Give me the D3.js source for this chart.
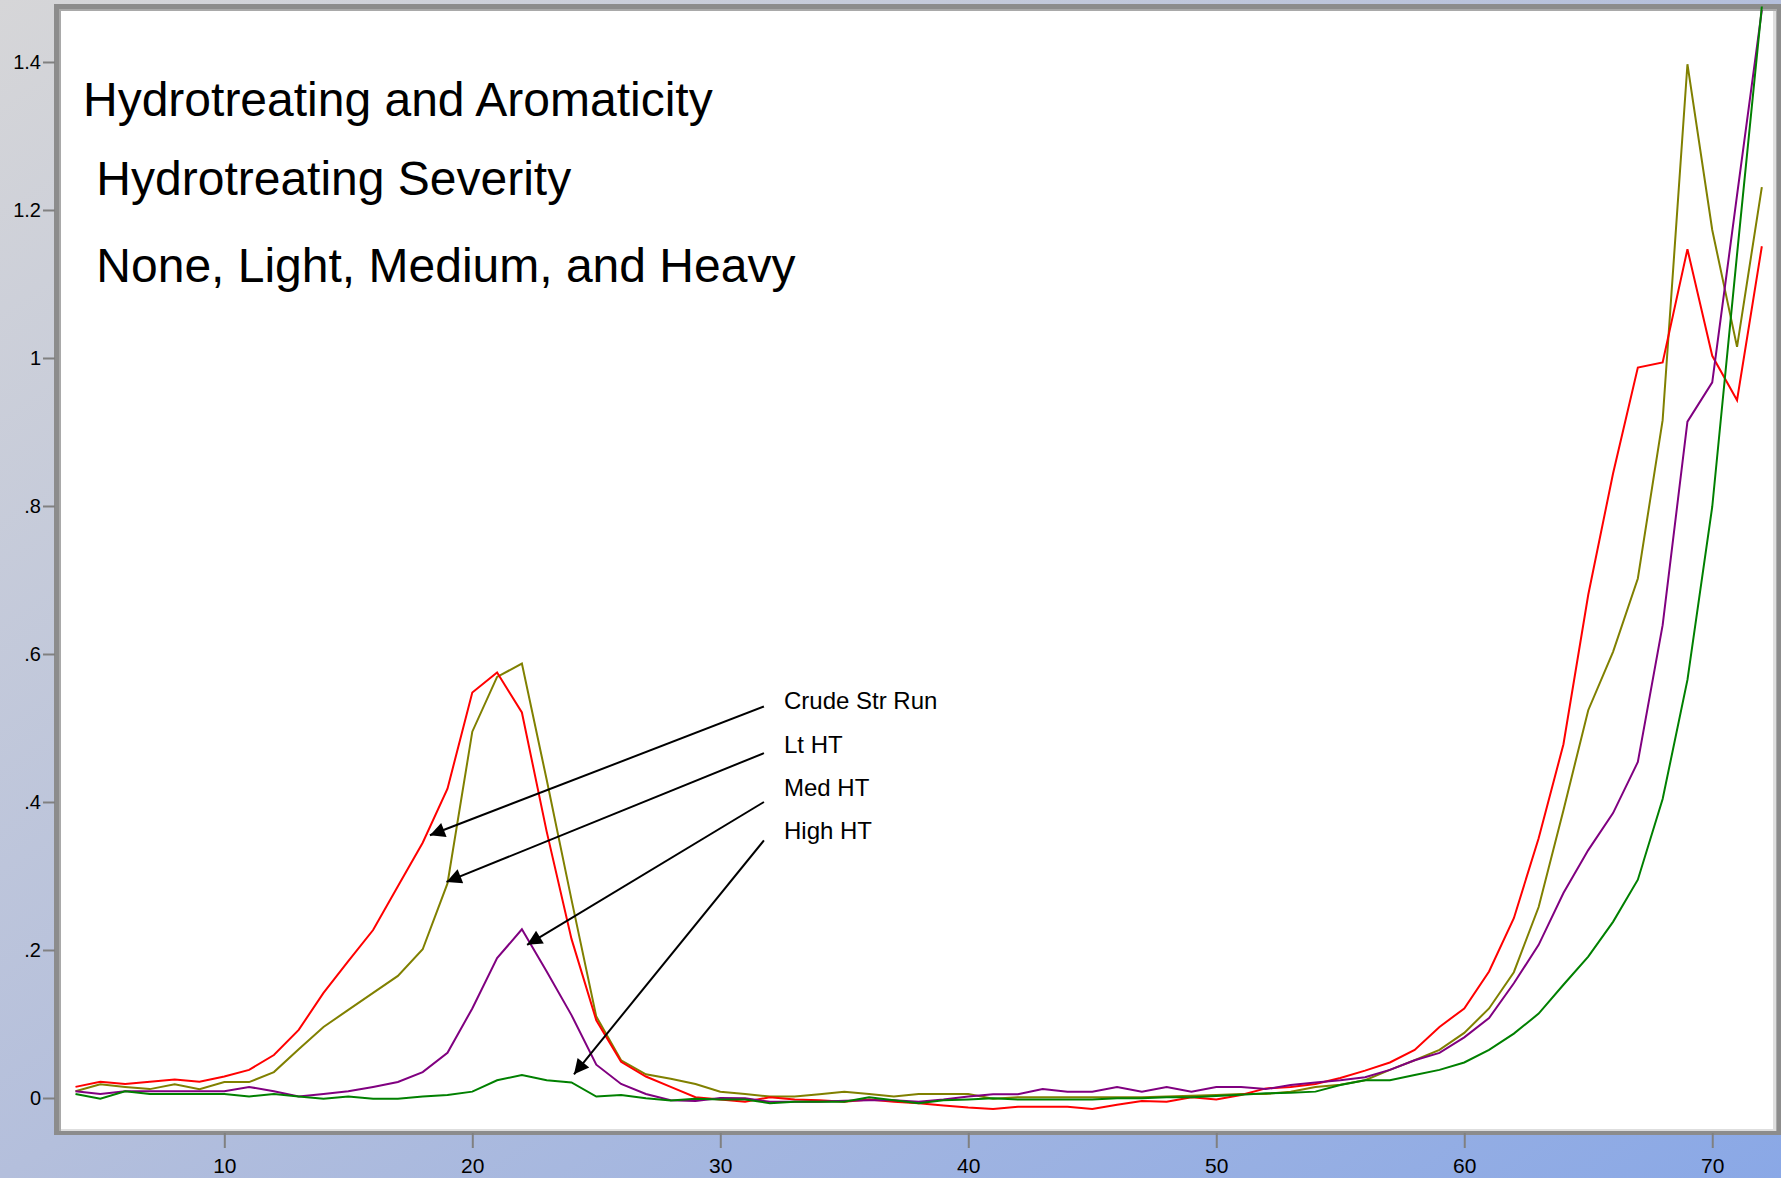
<!DOCTYPE html>
<html>
<head>
<meta charset="utf-8">
<script src="https://cdn.jsdelivr.net/npm/d3@7"></script>
<style>
  body { margin: 0; overflow: hidden; }
  text { font-family: "Liberation Sans", Arial, sans-serif; }
</style>
</head>
<body>
<div id="chart"></div>
<script>
// carbon number (x axis)
const carbon = [4, 5, 6, 7, 8, 9, 10, 11, 12, 13, 14, 15, 16, 17, 18, 19, 20, 21, 22, 23,
  24, 25, 26, 27, 28, 29, 30, 31, 32, 33, 34, 35, 36, 37, 38, 39, 40, 41, 42, 43,
  44, 45, 46, 47, 48, 49, 50, 51, 52, 53, 54, 55, 56, 57, 58, 59, 60, 61, 62, 63,
  64, 65, 66, 67, 68, 69, 70, 71, 72]

const crudeStrRun = [0.015, 0.022, 0.019, 0.022, 0.025, 0.022, 0.029, 0.038, 0.058, 0.092,
  0.142, 0.185, 0.227, 0.286, 0.345, 0.418, 0.548, 0.575, 0.521, 0.36,
  0.215, 0.105, 0.049, 0.029, 0.015, 0.001, -0.002, -0.005, 0.001, -0.002,
  -0.003, -0.005, -0.002, -0.005, -0.007, -0.010, -0.013, -0.015, -0.012, -0.012,
  -0.012, -0.015, -0.009, -0.004, -0.005, 0.001, -0.002, 0.004, 0.013, 0.015,
  0.019, 0.027, 0.037, 0.048, 0.065, 0.096, 0.121, 0.171, 0.243, 0.351,
  0.478, 0.68, 0.844, 0.987, 0.994, 1.147, 1.003, 0.943, 1.151]

const ltHT = [0.009, 0.0185, 0.015, 0.012, 0.0185, 0.012, 0.0215, 0.0215, 0.035, 0.066,
  0.096, 0.119, 0.142, 0.165, 0.201, 0.290, 0.495, 0.569, 0.587, 0.43,
  0.268, 0.11, 0.051, 0.032, 0.026, 0.019, 0.0085, 0.0054, 0.002, 0.002,
  0.005, 0.0085, 0.0054, 0.002, 0.0054, 0.0054, 0.0054, -0.001, 0.001, 0.001,
  0.001, 0.001, 0.001, 0.001, 0.002, 0.003, 0.004, 0.0054, 0.0054, 0.0085,
  0.015, 0.018, 0.024, 0.038, 0.051, 0.065, 0.088, 0.121, 0.170, 0.258,
  0.389, 0.524, 0.603, 0.702, 0.916, 1.397, 1.173, 1.015, 1.231]

const medHT = [0.009, 0.0054, 0.009, 0.009, 0.009, 0.009, 0.009, 0.015, 0.009, 0.002,
  0.0054, 0.009, 0.015, 0.0216, 0.035, 0.061, 0.121, 0.189, 0.228, 0.171,
  0.112, 0.045, 0.019, 0.0054, -0.003, -0.004, 0.0, -0.0005, -0.005, -0.005,
  -0.005, -0.0036, -0.003, -0.003, -0.005, -0.002, 0.002, 0.005, 0.005, 0.012,
  0.0085, 0.0085, 0.015, 0.0085, 0.015, 0.0085, 0.015, 0.015, 0.012, 0.0176,
  0.021, 0.024, 0.028, 0.038, 0.051, 0.061, 0.082, 0.108, 0.155, 0.207,
  0.277, 0.335, 0.385, 0.454, 0.639, 0.914, 0.967, 1.22, 1.47]

const highHT = [0.0054, -0.001, 0.009, 0.0054, 0.0054, 0.0054, 0.0054, 0.002, 0.0054, 0.002,
  -0.001, 0.002, -0.001, -0.001, 0.002, 0.004, 0.0086, 0.024, 0.031, 0.024,
  0.021, 0.002, 0.004, -0.0005, -0.0035, -0.001, -0.002, -0.002, -0.007, -0.005,
  -0.005, -0.005, 0.001, -0.003, -0.007, -0.003, -0.002, -0.0005, -0.002, -0.002,
  -0.002, -0.002, -0.0005, -0.0005, 0.001, 0.001, 0.0027, 0.0045, 0.0063, 0.0072,
  0.0086, 0.0176, 0.024, 0.024, 0.031, 0.038, 0.048, 0.065, 0.087, 0.114,
  0.153, 0.191, 0.238, 0.295, 0.404, 0.565, 0.799, 1.14, 1.475]

const xTicks = [10, 20, 30, 40, 50, 60, 70]
const yTicks = [0, 0.2, 0.4, 0.6, 0.8, 1, 1.2, 1.4]
const yTickLabels = ["0", ".2", ".4", ".6", ".8", "1", "1.2", "1.4"]

const titleLines = ["Hydrotreating and Aromaticity", " Hydrotreating Severity", " None, Light, Medium, and Heavy"]

// label, colour, arrow tip [x, y] in data units
const seriesNames = ["Crude Str Run", "Lt HT", "Med HT", "High HT"]
const seriesColors = ["#ff0000", "#808000", "#800080", "#008000"]
const arrowTips = [[18.29, 0.355], [18.96, 0.292], [22.21, 0.207], [24.10, 0.032]]
const arrowStartX = 31.76
const arrowStartY = [0.529, 0.466, 0.40, 0.348]
const labelX = 32.57
const labelY = [0.537, 0.478, 0.419, 0.361]

const width = 1781
const height = 1178
const plot = { left: 61, right: 1773, top: 11, bottom: 1129 }

const x = d3.scaleLinear().domain([3.415, 72.45]).range([plot.left, plot.right])
const y = d3.scaleLinear().domain([-0.0419, 1.4689]).range([plot.bottom, plot.top])

const svg = d3.select("#chart")
    .append("svg")
    .attr("width", width)
    .attr("height", height)

// background gradient, grey top-left to blue bottom-right
const grad = svg.append("defs").append("linearGradient")
    .attr("id", "bg")
    .attr("x1", 0).attr("y1", 0)
    .attr("x2", 1).attr("y2", 1)
grad.append("stop").attr("offset", 0).attr("stop-color", "#d6d6d8")
grad.append("stop").attr("offset", 0.5).attr("stop-color", "#b4bfdc")
grad.append("stop").attr("offset", 1).attr("stop-color", "#8aa8e6")

svg.append("rect")
    .attr("width", width)
    .attr("height", height)
    .attr("fill", "url(#bg)")

// sunken frame
svg.append("rect").attr("x", 54).attr("y", 4).attr("width", 1727).attr("height", 1131).attr("fill", "#8c8c8c")
svg.append("rect").attr("x", 59).attr("y", 9).attr("width", 1718).attr("height", 1122).attr("fill", "#a9a9a9")
svg.append("rect").attr("x", 61).attr("y", 11).attr("width", 1715).attr("height", 1120).attr("fill", "#dedede")
svg.append("rect")
    .attr("x", plot.left)
    .attr("y", plot.top)
    .attr("width", plot.right - plot.left)
    .attr("height", plot.bottom - plot.top)
    .attr("fill", "#ffffff")

// axes
const yAxis = svg.append("g")
    .attr("transform", "translate(55,0)")
    .call(d3.axisLeft(y).tickValues(yTicks).tickSize(12).tickPadding(2)
        .tickFormat((d, i) => yTickLabels[i]))
yAxis.select(".domain").remove()
yAxis.selectAll("line").attr("stroke", "#808080").attr("stroke-width", 2)
yAxis.selectAll("text")
    .attr("font-size", 20)
    .attr("font-family", "Liberation Sans, Arial, sans-serif")
    .attr("fill", "#000")

const xAxis = svg.append("g")
    .attr("transform", "translate(0,1133)")
    .call(d3.axisBottom(x).tickValues(xTicks).tickSize(15).tickPadding(10))
xAxis.select(".domain").remove()
xAxis.selectAll("line").attr("stroke", "#808080").attr("stroke-width", 2)
xAxis.selectAll("text")
    .attr("font-size", 21)
    .attr("font-family", "Liberation Sans, Arial, sans-serif")
    .attr("fill", "#000")

// series
const allSeries = [ltHT, crudeStrRun, medHT, highHT]
const allColors = [seriesColors[1], seriesColors[0], seriesColors[2], seriesColors[3]]
const line = d3.line()
    .x((d, i) => x(carbon[i]))
    .y(d => y(d))

svg.append("g")
    .selectAll("path")
    .data(allSeries)
    .enter().append("path")
    .attr("d", d => line(d))
    .attr("fill", "none")
    .attr("stroke", (d, i) => allColors[i])
    .attr("stroke-width", 2)
    .attr("stroke-linejoin", "miter")

// title block
svg.append("g")
    .selectAll("text")
    .data(titleLines)
    .enter().append("text")
    .attr("x", 83)
    .attr("y", (d, i) => [116, 195, 282][i])
    .attr("font-size", 48)
    .attr("xml:space", "preserve")
    .style("white-space", "pre")
    .text(d => d)

// annotation arrows
svg.append("defs").append("marker")
    .attr("id", "head")
    .attr("viewBox", "0 0 10 10")
    .attr("refX", 10)
    .attr("refY", 5)
    .attr("markerWidth", 20)
    .attr("markerHeight", 15)
    .attr("markerUnits", "userSpaceOnUse")
    .attr("orient", "auto")
    .append("path")
    .attr("d", "M0,0 L10,5 L0,10 Z")
    .attr("fill", "#000")

const ann = svg.append("g")
seriesNames.forEach((name, i) => {
    ann.append("line")
        .attr("x1", x(arrowStartX))
        .attr("y1", y(arrowStartY[i]))
        .attr("x2", x(arrowTips[i][0]))
        .attr("y2", y(arrowTips[i][1]))
        .attr("stroke", "#000")
        .attr("stroke-width", 2)
        .attr("marker-end", "url(#head)")
    ann.append("text")
        .attr("x", x(labelX))
        .attr("y", y(labelY[i]))
        .attr("dy", "0.35em")
        .attr("font-size", 24)
        .text(name)
})
</script>
</body>
</html>
